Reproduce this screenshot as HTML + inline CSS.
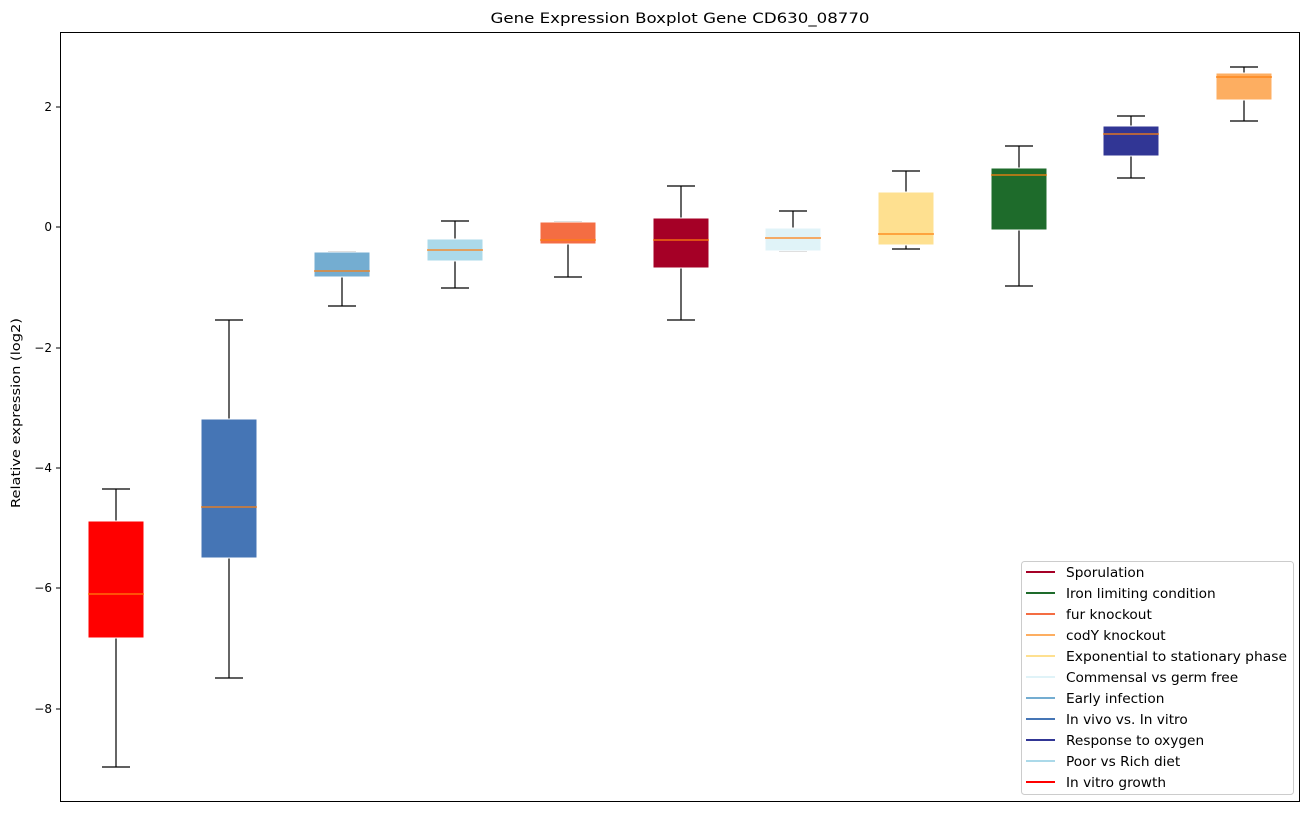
<!DOCTYPE html><html><head><style>body{margin:0;background:#fff}</style></head><body>
<svg width="1309" height="812" xmlns="http://www.w3.org/2000/svg" font-family="DejaVu Sans, Liberation Sans, sans-serif">
<rect width="1309" height="812" fill="#fff"/>
<text x="680" y="23" font-size="14" text-anchor="middle" fill="#000" textLength="379" lengthAdjust="spacingAndGlyphs">Gene Expression Boxplot Gene CD630_08770</text>
<g font-size="12" text-anchor="end" fill="#000">
<text x="52" y="111">2</text><text x="52" y="231">0</text><text x="52" y="352">−2</text><text x="52" y="472">−4</text><text x="52" y="592">−6</text><text x="52" y="713">−8</text>
</g>
<g stroke="#000"><line x1="56" x2="60" y1="107" y2="107"/><line x1="56" x2="60" y1="227" y2="227"/><line x1="56" x2="60" y1="348" y2="348"/><line x1="56" x2="60" y1="468" y2="468"/><line x1="56" x2="60" y1="588" y2="588"/><line x1="56" x2="60" y1="709" y2="709"/></g>
<text transform="translate(20,413) rotate(-90)" font-size="12" text-anchor="middle" textLength="190" lengthAdjust="spacingAndGlyphs">Relative expression (log2)</text>

<g stroke="#000" stroke-width="1.2">
<path d="M116 767V638M116 521V489M102 767H130M102 489H130"/>
<path d="M229 678V558M229 419V320M215 678H243M215 320H243"/>
<path d="M342 306V277M342 252V252M328 306H356M328 252H356"/>
<path d="M455 288V261M455 239V221M441 288H469M441 221H469"/>
<path d="M568 277V244M554 277H582M554 222H582"/>
<path d="M681 320V268M681 218V186M667 320H695M667 186H695"/>
<path d="M793 228V211M779 251H807M779 211H807"/>
<path d="M906 249V245M906 192V171M892 249H920M892 171H920"/>
<path d="M1019 286V230M1019 168V146M1005 286H1033M1005 146H1033"/>
<path d="M1131 178V156M1131 126V116M1117 178H1145M1117 116H1145"/>
<path d="M1244 121V100M1244 73V67M1230 121H1258M1230 67H1258"/>
</g>
<g stroke="#fff">
<rect x="88" y="521" width="56" height="117" fill="#ff0000"/>
<rect x="201" y="419" width="56" height="139" fill="#4575b5"/>
<rect x="314" y="252" width="56" height="25" fill="#74add1"/>
<rect x="427" y="239" width="56" height="22" fill="#abd9e9"/>
<rect x="540" y="222" width="56" height="22" fill="#f46d43"/>
<rect x="653" y="218" width="56" height="50" fill="#a50026"/>
<rect x="765" y="228" width="56" height="23" fill="#e0f3f8"/>
<rect x="878" y="192" width="56" height="53" fill="#fee090"/>
<rect x="991" y="168" width="56" height="62" fill="#1e6b2b"/>
<rect x="1103" y="126" width="56" height="30" fill="#313695"/>
<rect x="1216" y="73" width="56" height="27" fill="#fdae61"/>
</g>
<g stroke="#ff7f0e" stroke-width="1.2">
<path d="M88 594H144M201 507H257M314 271H370M427 250H483M540 240H596M653 240H709M765 238H821M878 234H934M991 175H1047M1103 134H1159M1216 77H1272"/>
</g>
<rect x="60.5" y="32.5" width="1239" height="769" fill="none" stroke="#000"/>
<rect x="1021.5" y="561.5" width="272" height="233" rx="3" fill="#fff" stroke="#ccc"/>
<g stroke-width="2">
<line x1="1026" x2="1055" y1="572" y2="572" stroke="#a50026"/>
<line x1="1026" x2="1055" y1="593" y2="593" stroke="#1e6b2b"/>
<line x1="1026" x2="1055" y1="614" y2="614" stroke="#f46d43"/>
<line x1="1026" x2="1055" y1="635" y2="635" stroke="#fdae61"/>
<line x1="1026" x2="1055" y1="656" y2="656" stroke="#fee090"/>
<line x1="1026" x2="1055" y1="677" y2="677" stroke="#e0f3f8"/>
<line x1="1026" x2="1055" y1="698" y2="698" stroke="#74add1"/>
<line x1="1026" x2="1055" y1="719" y2="719" stroke="#4575b5"/>
<line x1="1026" x2="1055" y1="740" y2="740" stroke="#313695"/>
<line x1="1026" x2="1055" y1="761" y2="761" stroke="#abd9e9"/>
<line x1="1026" x2="1055" y1="782" y2="782" stroke="#ff0000"/>
</g>
<g font-size="13.7" fill="#000">
<text x="1066" y="577">Sporulation</text>
<text x="1066" y="598">Iron limiting condition</text>
<text x="1066" y="619">fur knockout</text>
<text x="1066" y="640">codY knockout</text>
<text x="1066" y="661" textLength="221" lengthAdjust="spacingAndGlyphs">Exponential to stationary phase</text>
<text x="1066" y="682">Commensal vs germ free</text>
<text x="1066" y="703">Early infection</text>
<text x="1066" y="724">In vivo vs. In vitro</text>
<text x="1066" y="745">Response to oxygen</text>
<text x="1066" y="766">Poor vs Rich diet</text>
<text x="1066" y="787">In vitro growth</text>
</g>
</svg></body></html>
